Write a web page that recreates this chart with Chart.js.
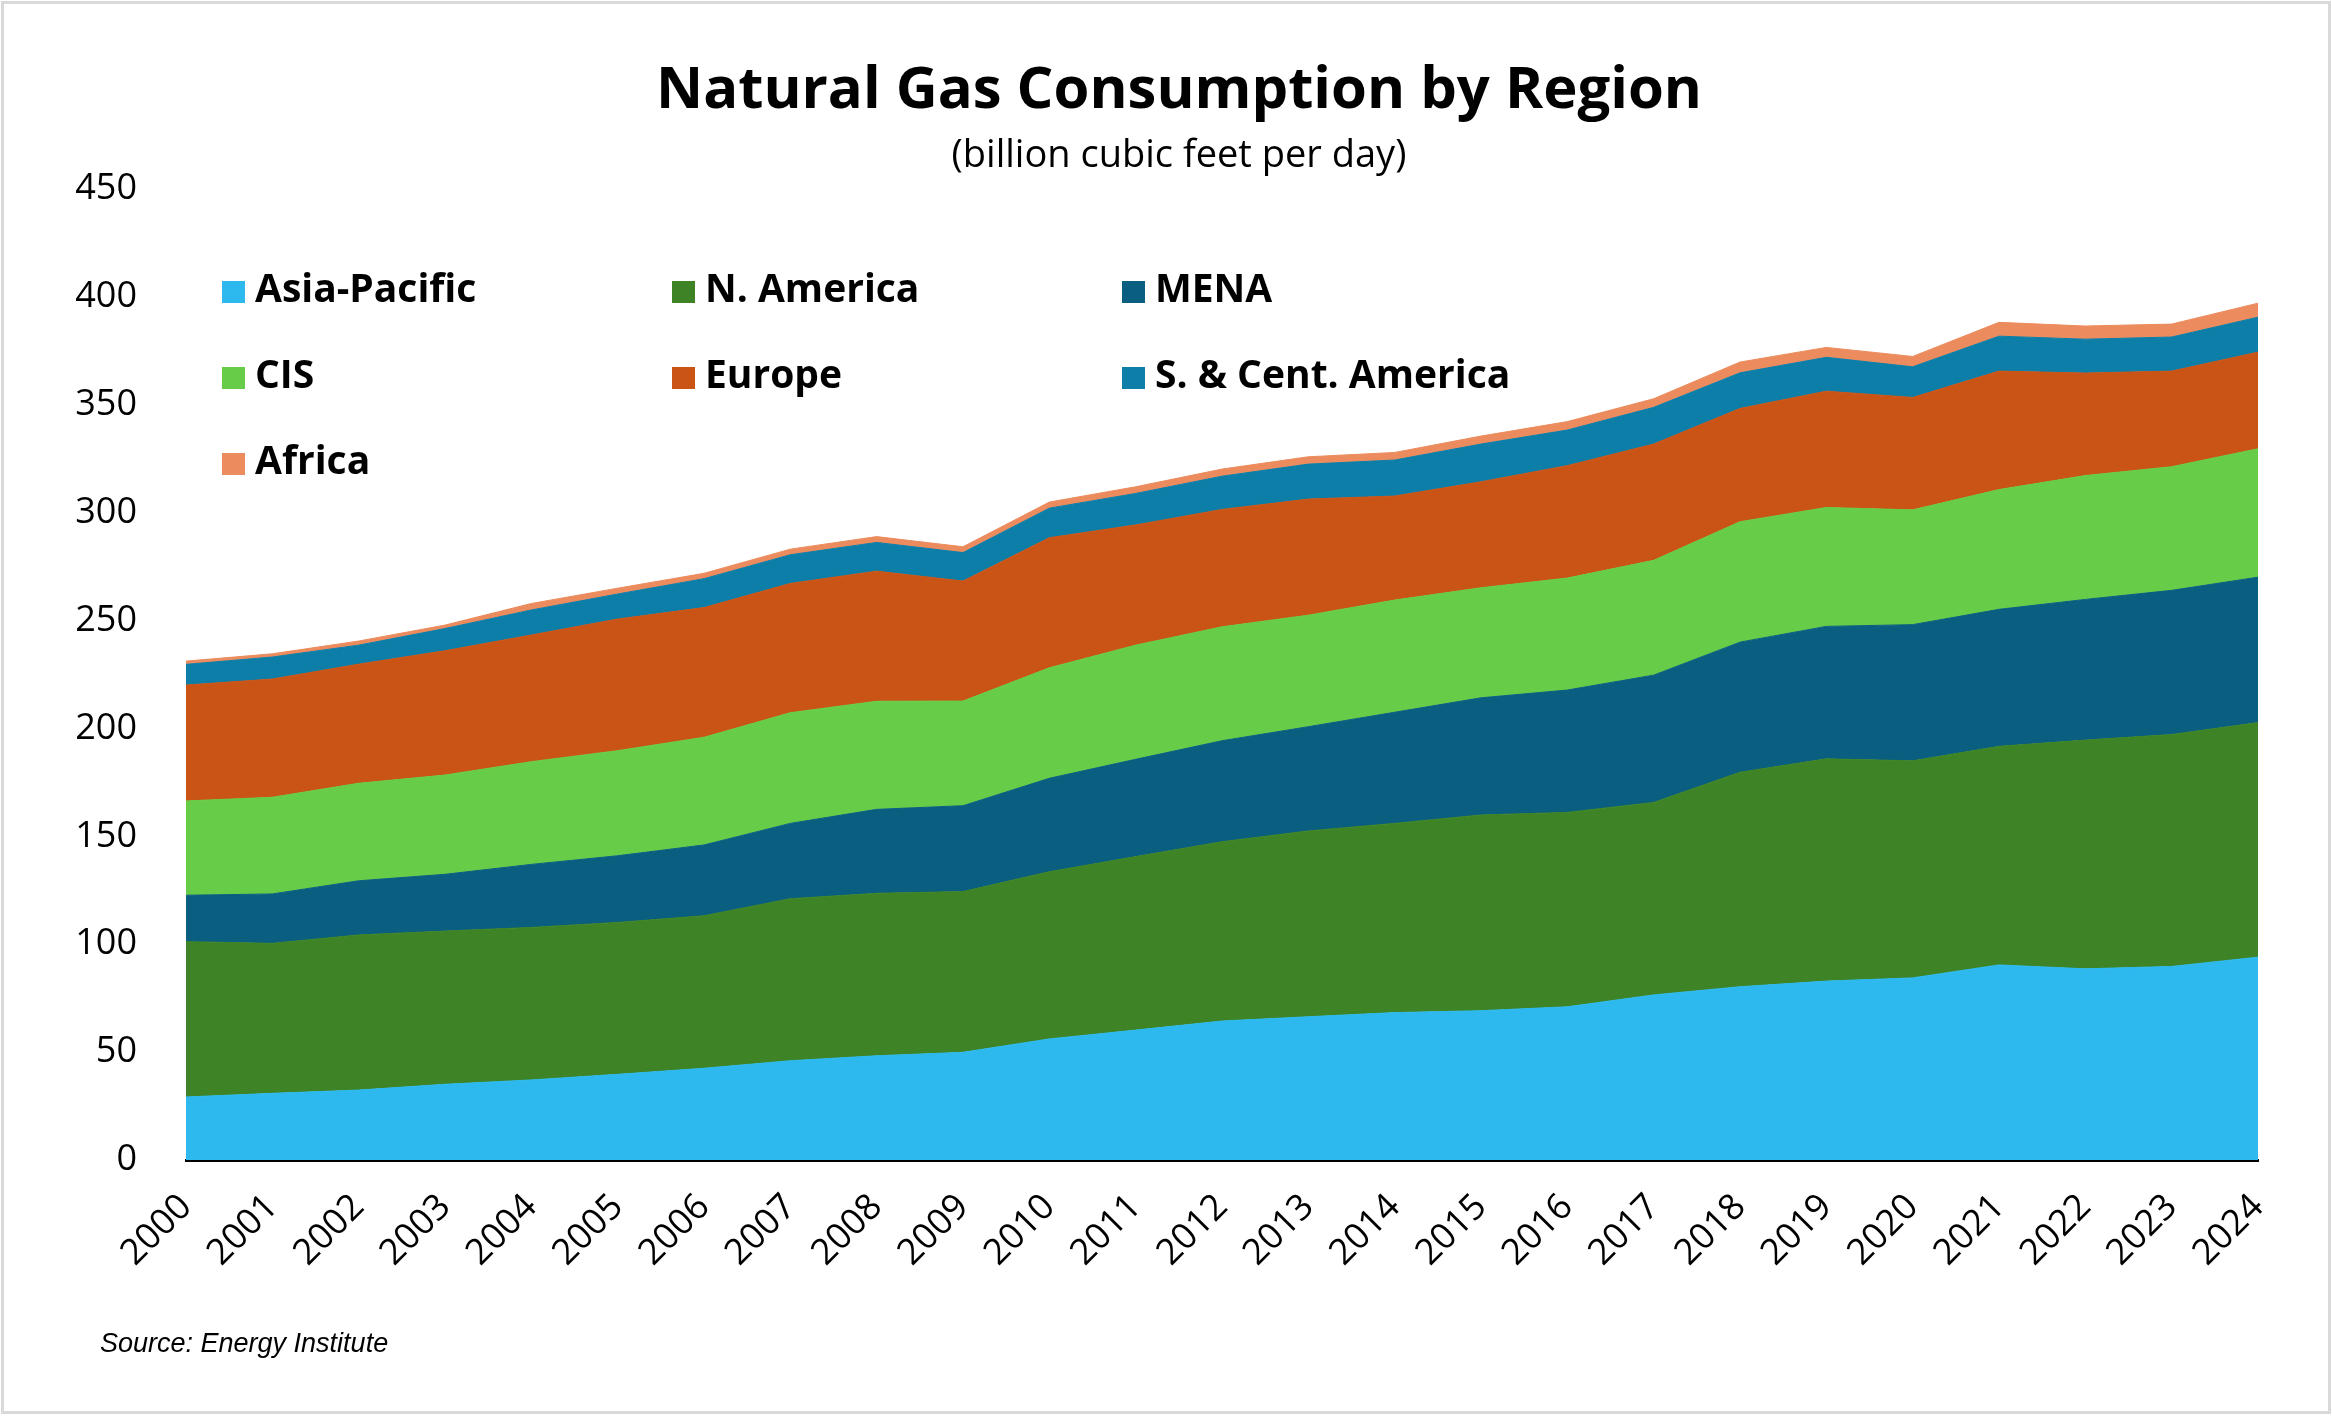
<!DOCTYPE html>
<html>
<head>
<meta charset="utf-8">
<title>Natural Gas Consumption by Region</title>
<script src="https://cdn.jsdelivr.net/npm/chart.js@4.4.1/dist/chart.umd.min.js"></script>
<style>
  html, body { margin: 0; padding: 0; background: #fff; }
  #wrap { position: relative; width: 2332px; height: 1416px; overflow: hidden; background: #fff; }
  #frame { position: absolute; left: 1px; top: 1px; width: 2330px; height: 1413px; box-sizing: border-box; border: 3px solid #d9d9d9; pointer-events: none; }
  #myChart { position: absolute; left: 0; top: 0; }
  .title { position: absolute; left: 0; width: 2358px; text-align: center; top: 57px; font: bold 58px/58px "Open Sans", sans-serif; color: #000; white-space: nowrap; }
  .subtitle { position: absolute; left: 0; width: 2358px; text-align: center; top: 133px; font: 38px/38px "Open Sans", sans-serif; color: #000; white-space: nowrap; }
  .legend-item { position: absolute; height: 40px; white-space: nowrap; }
  .legend-item .box { position: absolute; left: 0; top: 14px; width: 23px; height: 22px; }
  .legend-item .label { position: absolute; left: 33px; top: 0; font: bold 39px/39px "Open Sans", sans-serif; color: #000; }
  .source { position: absolute; left: 100px; top: 1330px; font: italic 27px/27px "Liberation Sans", Arial, sans-serif; color: #000; white-space: nowrap; }
</style>
</head>
<body>
<div id="wrap">
  <canvas id="myChart" width="2332" height="1416"></canvas>
  <div class="title">Natural Gas Consumption by Region</div>
  <div class="subtitle">(billion cubic feet per day)</div>
  <div id="legend"></div>
  <div class="source">Source: Energy Institute</div>
  <div id="frame"></div>
</div>

<script>
// Data (billion cubic feet per day)

const years = ['2000', '2001', '2002', '2003', '2004', '2005', '2006', '2007', '2008', '2009', '2010', '2011', '2012',
    '2013', '2014', '2015', '2016', '2017', '2018', '2019', '2020', '2021', '2022', '2023', '2024'];

const asiaPacific = [29.2, 30.9, 32.4, 35.1, 37.1, 39.7, 42.5, 46.0, 48.3, 49.9, 56.1, 60.2, 64.4,
    66.4, 68.3, 69.2, 71.0, 76.5, 80.3, 82.9, 84.4, 90.4, 88.6, 89.7, 94.0];
const northAmerica = [72.0, 69.5, 71.9, 71.0, 70.7, 70.4, 70.7, 75.1, 75.3, 74.5, 77.5, 80.4, 83.1,
    86.1, 87.7, 90.7, 90.1, 89.2, 99.4, 103.0, 100.6, 101.3, 106.0, 107.5, 108.7];
const mena = [21.5, 22.9, 25.1, 26.3, 29.2, 30.9, 32.8, 34.9, 38.9, 39.8, 43.3, 45.1, 46.8,
    48.3, 51.5, 54.3, 56.7, 59.0, 60.3, 61.4, 63.1, 63.5, 65.2, 66.8, 67.4];
const cis = [43.7, 44.8, 45.2, 46.0, 47.6, 48.7, 49.9, 51.3, 50.1, 48.5, 51.2, 52.9, 52.8,
    51.7, 52.0, 51.0, 51.9, 53.2, 55.8, 55.1, 53.2, 55.5, 57.4, 57.3, 59.5];
const europe = [53.7, 54.8, 55.2, 57.6, 58.7, 61.0, 60.1, 59.9, 60.3, 55.6, 60.3, 55.7, 54.4,
    53.8, 48.2, 49.1, 52.1, 53.9, 52.5, 53.9, 52.1, 54.9, 47.5, 44.3, 44.8];
const southCentAmerica = [9.6, 10.2, 8.8, 10.3, 11.6, 11.6, 13.4, 13.3, 13.3, 13.2, 13.7, 14.6, 15.4,
    16.2, 16.7, 17.5, 16.5, 17.0, 16.5, 15.7, 14.2, 16.2, 15.7, 15.8, 16.2];
const africa = [1.5, 1.5, 1.9, 1.6, 3.0, 2.7, 2.5, 2.6, 2.7, 2.7, 2.8, 3.1, 3.3,
    3.4, 3.5, 3.7, 3.9, 4.0, 5.0, 4.6, 4.8, 6.4, 6.1, 6.0, 6.5];

const seriesNames = ['Asia-Pacific', 'N. America', 'MENA', 'CIS', 'Europe', 'S. & Cent. America', 'Africa'];
const seriesValues = [asiaPacific, northAmerica, mena, cis, europe, southCentAmerica, africa];
const seriesColors = ['#2DB9EE', '#3E8426', '#0A5E80', '#67CC47', '#CA5416', '#0D7EA8', '#EC8C5E'];

const yTicks = [0, 50, 100, 150, 200, 250, 300, 350, 400, 450];

// Legend (3 columns, filled row by row)

function buildLegend() {
    const legend = document.getElementById('legend')
    const colLeft = [222, 672, 1122]
    const rowTop = [267, 353, 439]

    seriesNames.forEach(function (name, i) {
        const item = document.createElement('div')
        item.className = 'legend-item'
        item.style.left = colLeft[i % 3] + 'px'
        item.style.top = rowTop[Math.floor(i / 3)] + 'px'
        item.innerHTML = '<span class="box" style="background:' + seriesColors[i] + '"></span><span class="label">' + name + '</span>'
        legend.appendChild(item)
    })
}

buildLegend();

// Chart

const tickFont = { family: '"Open Sans", sans-serif', size: 36 };

const ctx = document.getElementById('myChart').getContext('2d');

new Chart(ctx, {
    type: 'line',
    data: {
        labels: years,
        datasets: seriesNames.map(function (name, i) {
            return {
                label: name,
                data: seriesValues[i],
                fill: i === 0 ? 'origin' : '-1',
                backgroundColor: seriesColors[i],
                borderColor: seriesColors[i],
                borderWidth: 1,
                pointRadius: 0,
                tension: 0
            }
        })
    },
    options: {
        responsive: false,
        animation: false,
        layout: {
            padding: { left: 0, top: 189, right: 74, bottom: 0 }
        },
        plugins: {
            legend: { display: false },
            tooltip: { enabled: false }
        },
        scales: {
            x: {
                z: 1,
                grid: { display: true, drawOnChartArea: false, drawTicks: false },
                border: { display: true, color: '#000', width: 3 },
                ticks: {
                    color: '#000',
                    font: tickFont,
                    autoSkip: false,
                    minRotation: 45,
                    maxRotation: 45,
                    padding: 26
                },
                afterFit: function (scale) { scale.height = 256 }
            },
            y: {
                stacked: true,
                min: 0,
                max: 450,
                grid: { display: false },
                border: { display: false },
                ticks: {
                    color: '#000',
                    font: tickFont,
                    padding: 41
                },
                afterBuildTicks: function (scale) {
                    scale.ticks = yTicks.map(v => ({ value: v }))
                },
                afterFit: function (scale) { scale.width = 186 }
            }
        }
    }
});
</script>
</body>
</html>
